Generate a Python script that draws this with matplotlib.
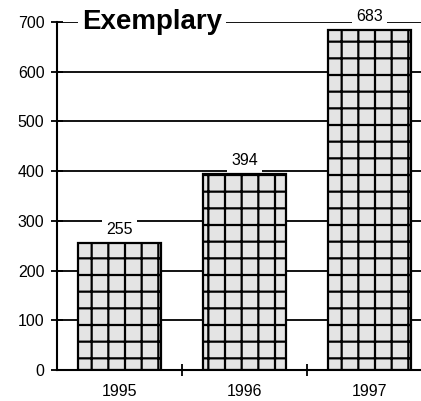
import matplotlib
matplotlib.use("Agg")
import matplotlib.pyplot as plt
import matplotlib.transforms as mtransforms
import numpy as np

plt.rcParams['font.family'] = ['Liberation Sans', 'DejaVu Sans']
plt.rcParams['hatch.color'] = '#6a6a6a'
plt.rcParams['hatch.linewidth'] = 1.6

years = ['1995', '1996', '1997']
values = [255, 394, 683]
y_ticks = [0, 100, 200, 300, 400, 500, 600, 700]
title = 'Exemplary'

fig = plt.figure(figsize=(4.21, 4.01), dpi=100)
ax = fig.add_axes([57/421, 31/401, 375/421, 348/401])

x = np.arange(len(years))
ax.set_xlim(-0.5, len(years) - 0.5)
ax.set_ylim(0, 700)

for yv in y_ticks[1:]:
    ax.axhline(yv, color='black', lw=1.3, zorder=1)

bars = ax.bar(x, values, width=0.66, facecolor='#e4e4e4', edgecolor='black',
              linewidth=1.6, hatch='+', zorder=2)

for xi, v in zip(x, values):
    ax.annotate(str(v), (xi, v), xytext=(0, 4.5), textcoords='offset points',
                ha='center', va='bottom', fontsize=11.5,
                bbox=dict(boxstyle='square,pad=0.25', fc='white', ec='none'), zorder=5)

trans = mtransforms.blended_transform_factory(ax.transAxes, ax.transData)
ax.text(25/375, 700, title, transform=trans,
        fontsize=20, fontweight='bold', ha='left', va='center', zorder=5,
        bbox=dict(boxstyle='square,pad=0.15', fc='white', ec='none'))

ax.set_yticks(y_ticks)
ax.set_yticklabels([str(t) for t in y_ticks], fontsize=11.5)
ax.set_xticks(x)
ax.set_xticklabels(years, fontsize=11.5)
ax.set_xticks(np.arange(-0.5, len(years) - 0.5 + 0.01, 1.0)[1:], minor=True)
ax.tick_params(axis='x', which='major', length=0, pad=10)
ax.tick_params(axis='x', which='minor', length=8, direction='inout', width=1.3)
ax.tick_params(axis='y', length=8, direction='inout', width=1.3, pad=5)

for s in ['top', 'right']:
    ax.spines[s].set_visible(False)
ax.spines['left'].set_linewidth(1.5)
ax.spines['bottom'].set_linewidth(1.5)

fig.savefig('out.png', dpi=100)
